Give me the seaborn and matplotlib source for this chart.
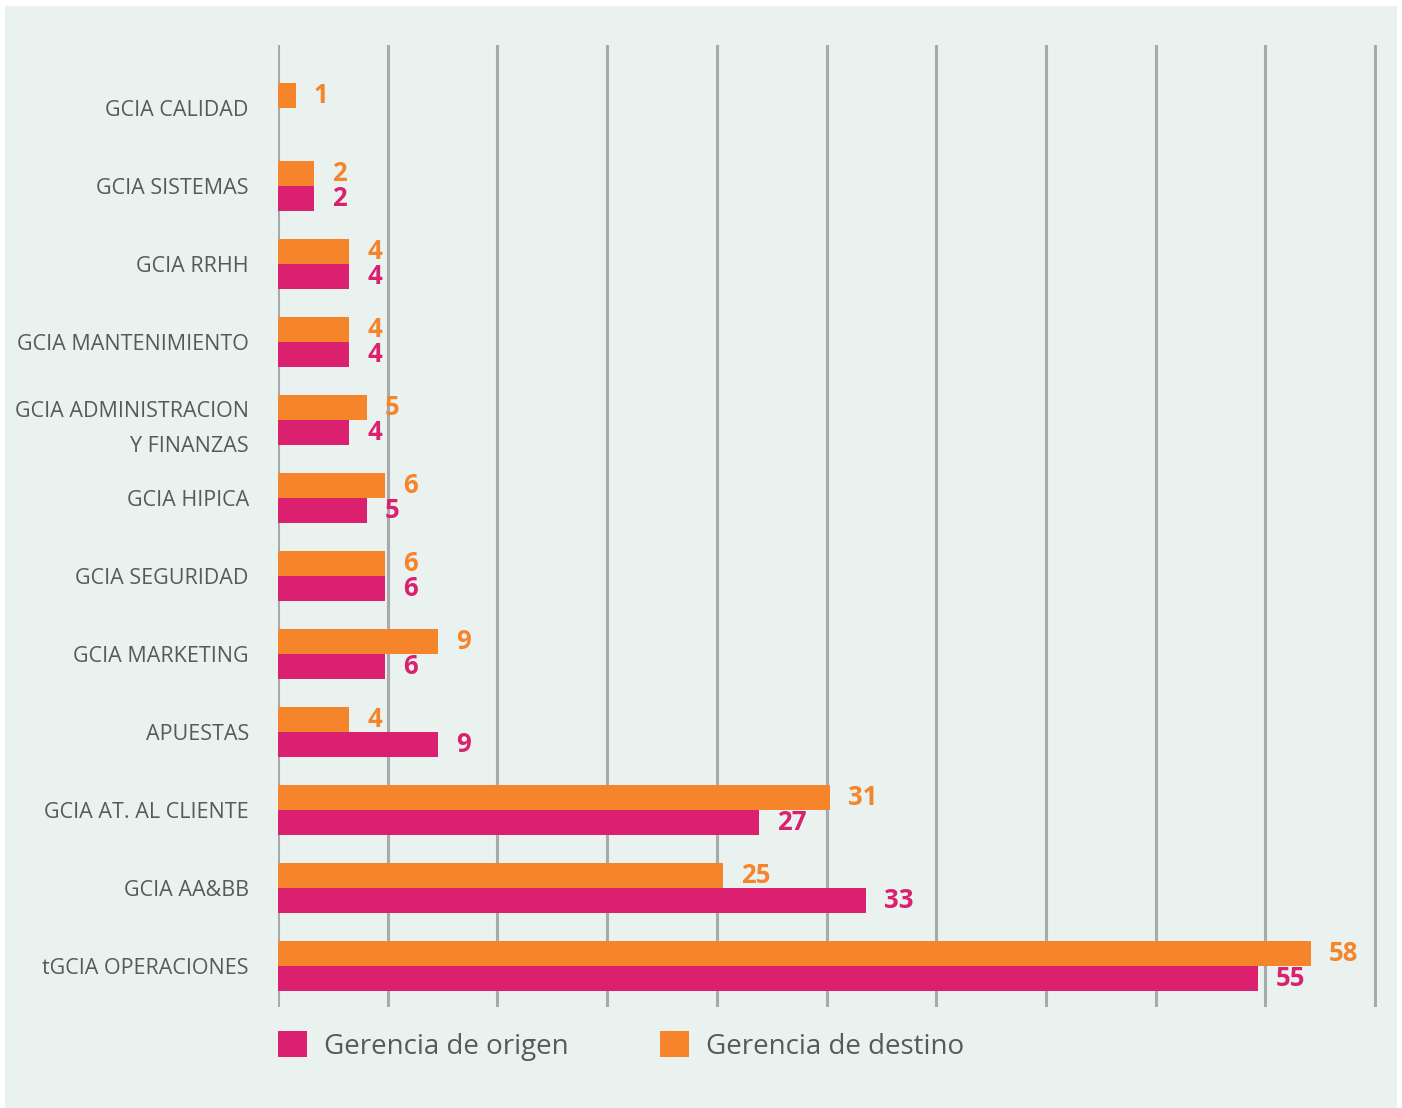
import numpy as np
import pandas as pd
import matplotlib
matplotlib.use("Agg")
import matplotlib.pyplot as plt
from matplotlib.patches import Patch, Rectangle
import seaborn as sns

categorias = [
    "GCIA CALIDAD", "GCIA SISTEMAS", "GCIA RRHH", "GCIA MANTENIMIENTO",
    "GCIA ADMINISTRACION\nY FINANZAS", "GCIA HIPICA", "GCIA SEGURIDAD",
    "GCIA MARKETING", "APUESTAS", "GCIA AT. AL CLIENTE", "GCIA AA&BB",
    "tGCIA OPERACIONES",
]
origen = [0, 2, 4, 4, 4, 5, 6, 6, 9, 27, 33, 55]
destino = [1, 2, 4, 4, 5, 6, 6, 9, 4, 31, 25, 58]
series = ["Gerencia de origen", "Gerencia de destino"]

COL_ORIGEN = "#DB2070"
COL_DESTINO = "#F5842A"
BG = "#E9F2EF"
GRID = "#A7A9AC"
TXT = "#58595B"

sns.set_theme(style="white")
plt.rcParams["font.family"] = ["Open Sans", "DejaVu Sans"]

df = pd.DataFrame({
    "categoria": categorias * 2,
    "valor": origen + destino,
    "serie": [series[0]] * len(categorias) + [series[1]] * len(categorias),
})

fig = plt.figure(figsize=(14.02, 11.08), dpi=100, facecolor="white")
fig.add_artist(Rectangle((5 / 1402, 0), 1392 / 1402, 1 - 6 / 1108,
                         transform=fig.transFigure, facecolor=BG,
                         edgecolor="none", zorder=-10))

ax = fig.add_axes([278 / 1402, 1 - 1007 / 1108, (1377 - 278) / 1402, (1007 - 45) / 1108])
ax.set_facecolor("none")

palette = {series[0]: COL_ORIGEN, series[1]: COL_DESTINO}
sns.barplot(data=df, y="categoria", x="valor", hue="serie",
            hue_order=[series[1], series[0]], order=categorias,
            palette=palette, orient="h", width=0.64, dodge=True,
            saturation=1, legend=False, linewidth=0, ax=ax, zorder=3)

xmax = 61.6
ax.set_xlim(0, xmax + 0.1)
ax.set_ylim(11.53, -0.81)
for gx in np.linspace(0, xmax, 11):
    ax.axvline(gx, color=GRID, lw=2.2, zorder=1)

for s in ax.spines.values():
    s.set_visible(False)
ax.set_xticks([])
ax.set_xlabel("")
ax.set_ylabel("")
ax.tick_params(axis="y", length=0, pad=21, labelsize=15.5, labelcolor=TXT)
for lbl in ax.get_yticklabels():
    lbl.set_linespacing(1.85)

# value labels at the end of each bar
for cont, col in zip(ax.containers, [COL_DESTINO, COL_ORIGEN]):
    for rect in cont:
        w = rect.get_width()
        if w <= 0:
            continue
        ax.annotate(f"{int(round(w))}", (w, rect.get_y() + rect.get_height() / 2),
                    xytext=(13, 0), textcoords="offset points",
                    ha="left", va="center", color=col, fontsize=18.5,
                    fontweight="bold")

handles = [Patch(facecolor=COL_ORIGEN, edgecolor="none"),
           Patch(facecolor=COL_DESTINO, edgecolor="none")]
fig.legend(handles, series, loc="center left",
           bbox_to_anchor=(253 / 1402, 1 - 1046 / 1108), ncol=2,
           frameon=False, fontsize=20, handlelength=1.05, handleheight=1.05,
           handletextpad=0.6, columnspacing=3.3, labelcolor=TXT)

fig.savefig("out.png", dpi=100, facecolor="white")
